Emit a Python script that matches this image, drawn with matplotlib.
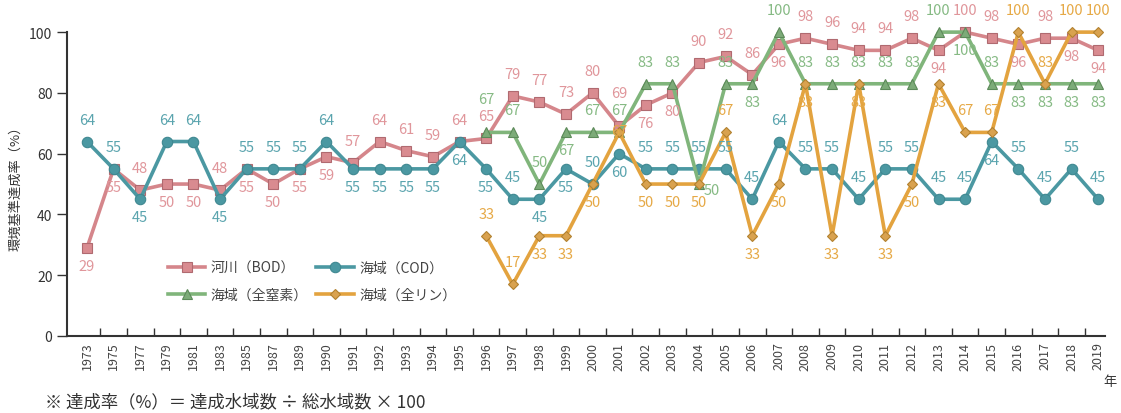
import matplotlib
matplotlib.use('Agg')
import matplotlib.pyplot as plt

plt.rcParams['font.family'] = ['Noto Sans CJK JP', 'DejaVu Sans']

years = ['1973', '1975', '1977', '1979', '1981', '1983', '1985', '1987', '1989'] + \
        [str(y) for y in range(1990, 2020)]

bod = [29, 55, 48, 50, 50, 48, 55, 50, 55, 59, 57, 64, 61, 59, 64, 65, 79, 77, 73, 80,
       69, 76, 80, 90, 92, 86, 96, 98, 96, 94, 94, 98, 94, 100, 98, 96, 98, 98, 94]
cod = [64, 55, 45, 64, 64, 45, 55, 55, 55, 64, 55, 55, 55, 55, 64, 55, 45, 45, 55, 50,
       60, 55, 55, 55, 55, 45, 64, 55, 55, 45, 55, 55, 45, 45, 64, 55, 45, 55, 45]
# total nitrogen / total phosphorus start in 1996
tn = [67, 67, 50, 67, 67, 67, 83, 83, 50, 83, 83, 100, 83, 83, 83, 83, 83, 100, 100,
      83, 83, 83, 83, 83]
tp = [33, 17, 33, 33, 50, 67, 50, 50, 50, 67, 33, 50, 83, 33, 83, 33, 50, 83, 67, 67,
      100, 83, 100, 100]

# where each value label sits: a=above, A=higher, b=below, c=on marker, r=right
bod_pos = 'bbabbabbb' + 'b' + 'a' * 10 + 'A' + 'bb' + 'aaa' + 'b' + 'aaaaa' + 'b' + 'aa' + 'b' + 'a' + 'bb'
cod_pos = 'aabaabaaaa' + 'bbbbbb' + 'a' + 'bb' + 'a' + 'b' + 'a' * 13 + 'b' + 'aaaa'
tn_pos = 'Aaab' + 'aaaa' + 'r' + 'a' + 'b' + 'a' + 'aaaaa' + 'a' + 'b' + 'a' + 'bbbb'
tp_pos = 'aabbbcbbbabbbbbbbbaaaaaa'

offsets = {'a': (0, 22), 'A': (0, 33), 'b': (0, -18), 'c': (0, 1), 'r': (13, -6)}

start_1996 = years.index('1996')

series = [
    ('河川（BOD）', bod, 0, bod_pos, 's', '#d5868b', '#d98b90', '#b06a70', '#e0969b', 6.5),
    ('海域（COD）', cod, 0, cod_pos, 'o', '#4b98a2', '#4b98a2', '#3f8891', '#5aa4ae', 7.5),
    ('海域（全窒素）', tn, start_1996, tn_pos, '^', '#80b57b', '#7cab78', '#5c8a59', '#86ba84', 7),
    ('海域（全リン）', tp, start_1996, tp_pos, 'D', '#e3a33f', '#d9a24f', '#b2812f', '#e6a946', 5.5),
]

fig = plt.figure(figsize=(11.21, 4.14), dpi=100)
ax = fig.add_axes([0.0598, 0.186, 0.926, 0.734])

handles = []
for name, vals, start, pos, mk, lc, mfc, mec, tc, ms in series:
    xs = list(range(start, start + len(vals)))
    h, = ax.plot(xs, vals, color=lc, lw=2.6, marker=mk, ms=ms, mfc=mfc, mec=mec,
                 mew=0.8, clip_on=False, label=name, zorder=3)
    handles.append(h)
    for x, v, p in zip(xs, vals, pos):
        dx, dy = offsets[p]
        ax.annotate(str(v), (x, v), xytext=(dx, dy), textcoords='offset pixels',
                    ha='center', va='center', fontsize=10.5, color=tc, zorder=4)

ax.set_xlim(-0.75, 38.26)
ax.set_ylim(0, 100)
ax.set_yticks([0, 20, 40, 60, 80, 100])
ax.tick_params(axis='y', direction='out', length=7, width=1, labelsize=10, colors='#333333')
ax.set_xticks(range(len(years)))
ax.set_xticklabels(years, rotation=90, fontsize=9, color='#444444')
ax.tick_params(axis='x', which='major', length=0, pad=4)
ax.set_xticks([i + 0.5 for i in range(len(years) - 1)], minor=True)
ax.tick_params(axis='x', which='minor', direction='in', length=6, width=1, color='#333333')

for s in ['top', 'right']:
    ax.spines[s].set_visible(False)
for s in ['left', 'bottom']:
    ax.spines[s].set_linewidth(1.5)
    ax.spines[s].set_color('#333333')

ax.set_ylabel('環境基準達成率（%）', fontsize=9.5, color='#333333', labelpad=5)

ax.legend([handles[0], handles[2], handles[1], handles[3]],
          ['河川（BOD）', '海域（全窒素）', '海域（COD）', '海域（全リン）'],
          ncol=2, loc='upper left', bbox_to_anchor=(0.085, 0.29), frameon=False,
          fontsize=10, handlelength=2.7, handletextpad=0.4, columnspacing=0.6,
          labelspacing=0.95, labelcolor='#444444')

fig.text(0.990, 0.075, '年', fontsize=9.5, color='#333333', ha='center', va='center')
fig.text(0.040, 0.028, '※ 達成率（%）＝ 達成水域数 ÷ 総水域数 × 100', fontsize=12.5,
         color='#333333', ha='left', va='center')

fig.savefig('out.png', dpi=100)
